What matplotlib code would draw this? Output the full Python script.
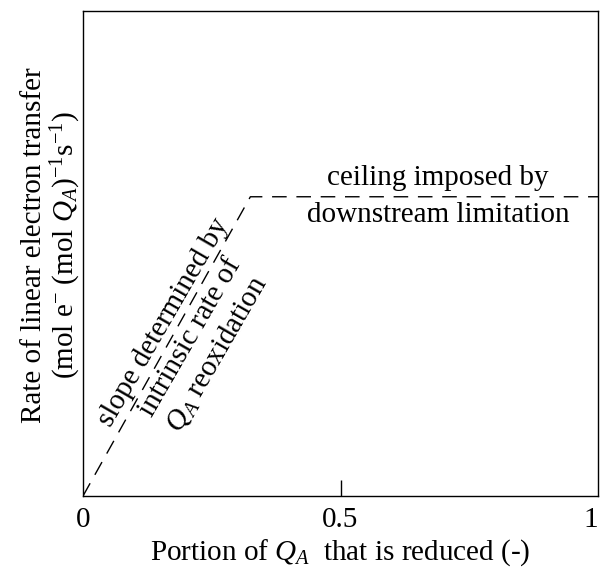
import matplotlib
matplotlib.use("Agg")
import matplotlib.pyplot as plt

plt.rcParams['font.family'] = ['Liberation Serif', 'DejaVu Serif']
plt.rcParams['mathtext.fontset'] = 'custom'
plt.rcParams['mathtext.rm'] = 'Liberation Serif'
plt.rcParams['mathtext.it'] = 'Liberation Serif:italic'

# piecewise rate curve: linear rise then ceiling
qa_reduced = [0.0, 0.325, 1.0]
rate = [0.0, 0.617, 0.617]

xticks = [0, 0.5, 1]
xtick_labels = ["0", "0.5", "1"]

fs = 21

fig = plt.figure(figsize=(6.0, 5.69), dpi=100)
ax = fig.add_axes([83/600, 1 - 496/569, 515/600, 485/569])

line, = ax.plot(qa_reduced, rate, color='black', lw=1.0)
line.set_dashes((10.5, 7))

ax.set_xlim(0, 1)
ax.set_ylim(0, 1)
ax.set_yticks([])
ax.set_xticks(xticks)
ax.set_xticklabels(xtick_labels, fontsize=fs)
ax.tick_params(axis='x', direction='in', length=11.5, width=1.0, pad=8)
# only the middle tick has a visible mark
for i, t in enumerate(ax.xaxis.get_major_ticks()):
    if i != 1:
        t.tick1line.set_visible(False)
ax.get_xticklabels()[-1].set_horizontalalignment('right')
for s in ax.spines.values():
    s.set_linewidth(1.0)

ax.set_xlabel("Portion of $Q_A$  that is reduced (-)", fontsize=fs, labelpad=3)

fig.text(52/600, 1 - 245/569,
         "Rate of linear electron transfer\n(mol e$^{-}$ (mol $Q_A$)$^{-1}$s$^{-1}$)",
         rotation=90, ha='center', va='center', multialignment='center',
         fontsize=fs, linespacing=1.05)

ax.text(0.210, 0.325, "slope determined by\nintrinsic rate of\n$Q_A$ reoxidation",
        rotation=60, rotation_mode='anchor', ha='center', va='center',
        multialignment='center', fontsize=fs, linespacing=1.2)

ax.text(0.689, 0.641, "ceiling imposed by", ha='center', va='baseline', fontsize=fs)
ax.text(0.689, 0.565, "downstream limitation", ha='center', va='baseline', fontsize=fs)

fig.savefig("out.png", dpi=100)
